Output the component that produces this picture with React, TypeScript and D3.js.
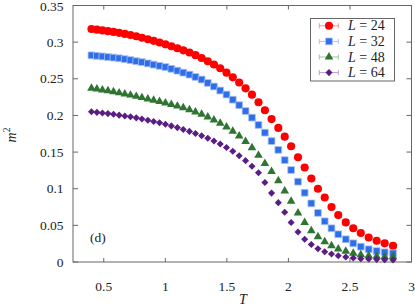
import React from 'react'
import * as d3 from 'd3'

// temperatures
const temps = [
  0.400, 0.444, 0.489, 0.534, 0.579, 0.625, 0.671, 0.717, 0.764, 0.810,
  0.858, 0.905, 0.953, 1.001, 1.049, 1.098, 1.146, 1.196, 1.245, 1.295,
  1.345, 1.395, 1.446, 1.497, 1.548, 1.600, 1.652, 1.704, 1.757, 1.809,
  1.863, 1.918, 1.970, 2.022, 2.078, 2.132, 2.186, 2.240, 2.295, 2.350,
  2.405, 2.466, 2.527, 2.588, 2.652, 2.717, 2.782, 2.850,
]

const m2L24 = [
  0.318, 0.317, 0.316, 0.315, 0.314, 0.3127, 0.3112, 0.3097, 0.308, 0.306,
  0.304, 0.3018, 0.2995, 0.297, 0.2944, 0.2917, 0.2888, 0.2858, 0.2822, 0.2784,
  0.274, 0.2695, 0.2643, 0.2584, 0.252, 0.245, 0.237, 0.2283, 0.218, 0.207,
  0.195, 0.183, 0.171, 0.158, 0.143, 0.129, 0.114, 0.100, 0.088, 0.075,
  0.064, 0.054, 0.046, 0.0395, 0.0335, 0.029, 0.0255, 0.022,
]

const m2L32 = [
  0.282, 0.2813, 0.2805, 0.2797, 0.2789, 0.278, 0.2768, 0.2755, 0.274, 0.2727,
  0.271, 0.2693, 0.2676, 0.266, 0.2636, 0.2611, 0.2584, 0.2557, 0.2525, 0.249,
  0.2443, 0.2395, 0.234, 0.2285, 0.2215, 0.214, 0.206, 0.197, 0.187, 0.1765,
  0.165, 0.153, 0.139, 0.1255, 0.1096, 0.0945, 0.080, 0.067, 0.0555, 0.046,
  0.0378, 0.031, 0.0255, 0.0209, 0.0173, 0.015, 0.0132, 0.0119,
]

const m2L48 = [
  0.237, 0.236, 0.2348, 0.2336, 0.2323, 0.2308, 0.2293, 0.2277, 0.226, 0.2243,
  0.2225, 0.2207, 0.2189, 0.217, 0.2149, 0.2127, 0.2105, 0.2078, 0.2048, 0.2015,
  0.1978, 0.1938, 0.1893, 0.1843, 0.1785, 0.172, 0.1645, 0.156, 0.1455, 0.1345,
  0.1235, 0.111, 0.097, 0.083, 0.067, 0.054, 0.0427, 0.0345, 0.0277, 0.0222,
  0.0177, 0.0146, 0.0119, 0.010, 0.0086, 0.0077, 0.0073, 0.0072,
]

const m2L64 = [
  0.205, 0.2042, 0.2034, 0.2025, 0.2015, 0.2004, 0.1993, 0.1981, 0.1967, 0.1952,
  0.1935, 0.1918, 0.1899, 0.1879, 0.1857, 0.1834, 0.1809, 0.1782, 0.1753, 0.1722,
  0.1688, 0.1651, 0.161, 0.1563, 0.151, 0.145, 0.1383, 0.1307, 0.1218, 0.1085,
  0.094, 0.081, 0.068, 0.054, 0.041, 0.031, 0.024, 0.018, 0.014, 0.0109,
  0.0086, 0.0068, 0.0055, 0.0045, 0.004, 0.0036, 0.0031, 0.0027,
]

const xTicks = [0.5, 1, 1.5, 2, 2.5, 3]
const yTicks = [0, 0.05, 0.1, 0.15, 0.2, 0.25, 0.3, 0.35]

const series = [
  { name: '24', values: m2L24, color: '#ff0000', light: '#ff9090', shape: 'circle' },
  { name: '32', values: m2L32, color: '#2f6ee9', light: '#a9c3f5', shape: 'square' },
  { name: '48', values: m2L48, color: '#2e7532', light: '#9fc4a0', shape: 'triangle' },
  { name: '64', values: m2L64, color: '#5a1d86', light: '#b9a2cf', shape: 'diamond' },
]

const W = 415
const H = 306
const margin = { top: 5.5, right: 3.5, bottom: 44, left: 73 }

const serif = "'Liberation Serif', 'DejaVu Serif', serif"

function markerPath(shape: string) {
  if (shape === 'circle') return d3.symbol(d3.symbolCircle, 52)()!
  if (shape === 'square') return d3.symbol(d3.symbolSquare, 46)()!
  if (shape === 'triangle') return d3.symbol(d3.symbolTriangle, 32)()!
  return d3.symbol(d3.symbolSquare, 25)()!
}

function Marker({ s, x, y }: { s: typeof series[number]; x: number; y: number }) {
  const rot = s.shape === 'diamond' ? ' rotate(45)' : ''
  return (
    <path
      d={markerPath(s.shape)}
      transform={`translate(${x},${y})${rot}`}
      fill={s.color}
      stroke={s.shape === 'square' ? s.light : 'none'}
      strokeWidth={0.8}
    />
  )
}

export default function App() {
  const x = d3.scaleLinear().domain([0.25, 3]).range([margin.left, W - margin.right])
  const y = d3.scaleLinear().domain([0, 0.35]).range([H - margin.bottom, margin.top])
  const x0 = margin.left
  const x1 = W - margin.right
  const y0 = H - margin.bottom
  const y1 = margin.top
  const axisColor = '#666'

  const lx = 310.5
  const ly = 18.5

  return (
    <svg width={W} height={H} style={{ position: 'absolute', left: 0, top: 0, background: '#fff' }}>
      <rect x={0} y={0} width={W} height={H} fill="#fff" />

      {/* frame */}
      <rect x={x0} y={y1} width={x1 - x0} height={y0 - y1} fill="none" stroke={axisColor} strokeWidth={1} />

      {xTicks.map(t => (
        <g key={'x' + t}>
          <line x1={x(t)} x2={x(t)} y1={y0} y2={y0 - 4} stroke={axisColor} />
          <line x1={x(t)} x2={x(t)} y1={y1} y2={y1 + 4} stroke={axisColor} />
          <text x={x(t)} y={y0 + 28.5} textAnchor="middle" fontFamily={serif} fontSize={13.5} fill="#222">
            {t}
          </text>
        </g>
      ))}
      {yTicks.map(t => (
        <g key={'y' + t}>
          <line x1={x0} x2={x0 + 5} y1={y(t)} y2={y(t)} stroke={axisColor} />
          <line x1={x1} x2={x1 - 5} y1={y(t)} y2={y(t)} stroke={axisColor} />
          <text x={x0 - 9.5} y={Math.max(y(t) + 4.5, 11)} textAnchor="end" fontFamily={serif} fontSize={13.5} fill="#222">
            {t}
          </text>
        </g>
      ))}

      {/* data */}
      {series.map(s => (
        <g key={s.name}>
          {s.values.map((v, i) => (
            <Marker key={i} s={s} x={x(temps[i])} y={y(v)} />
          ))}
        </g>
      ))}

      {/* axis titles */}
      <text x={243} y={304} textAnchor="middle" fontFamily={serif} fontSize={14} fontStyle="italic" fill="#222">
        T
      </text>
      <text transform="translate(15.5,135) rotate(-90)" textAnchor="middle" fontFamily={serif} fontSize={14} fill="#222">
        <tspan fontStyle="italic">m</tspan>
        <tspan fontSize={9.5} dy={-6}>2</tspan>
      </text>

      <text x={90} y={242} fontFamily={serif} fontSize={13.5} fill="#222">(d)</text>

      {/* legend */}
      <rect x={lx} y={ly} width={84} height={62.5} fill="#fff" stroke={axisColor} strokeWidth={1} />
      {series.map((s, i) => {
        const cy = ly + 7.3 + i * 15.6
        return (
          <g key={'lg' + s.name}>
            <line x1={319.3} x2={338.3} y1={cy} y2={cy} stroke={s.light} strokeWidth={1} />
            <line x1={319.3} x2={319.3} y1={cy - 2.5} y2={cy + 2.5} stroke={s.light} strokeWidth={1} />
            <line x1={338.3} x2={338.3} y1={cy - 2.5} y2={cy + 2.5} stroke={s.light} strokeWidth={1} />
            <Marker s={s} x={329} y={cy} />
            <text x={348} y={cy + 4.5} fontFamily={serif} fontSize={14} fill="#222">
              <tspan fontStyle="italic">L</tspan>
              <tspan> = {s.name}</tspan>
            </text>
          </g>
        )
      })}
    </svg>
  )
}
